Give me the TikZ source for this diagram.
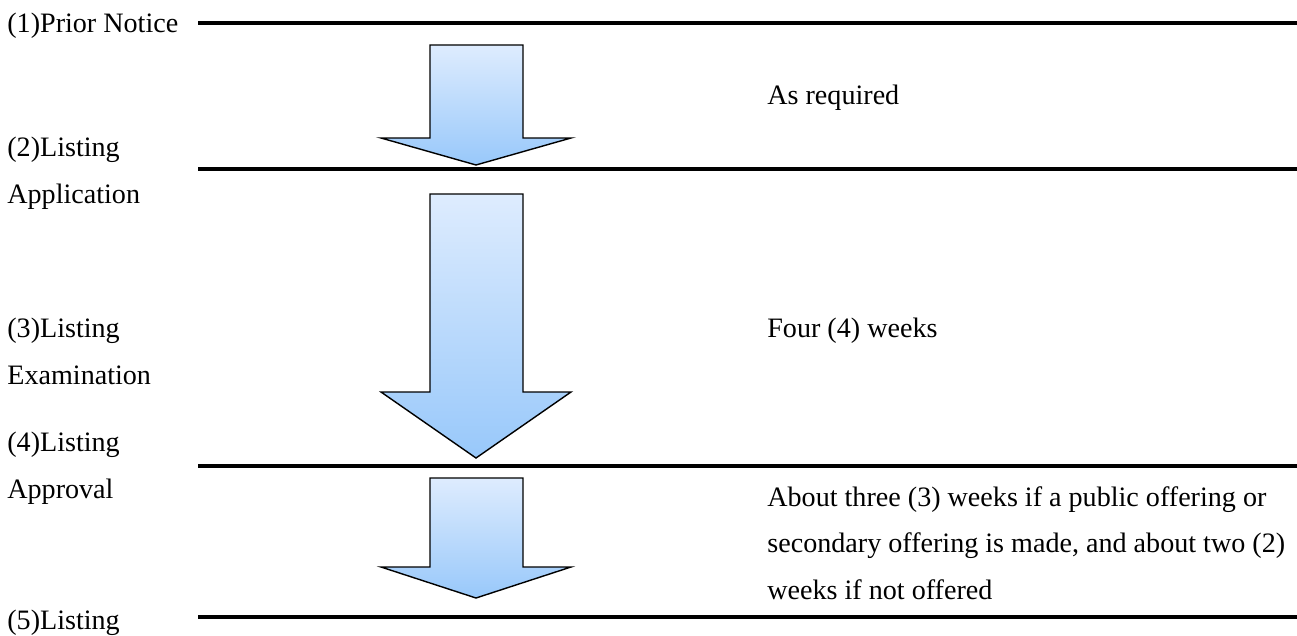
\documentclass[tikz,border=0pt]{standalone}
\usepackage{fontspec}
\setmainfont{Liberation Serif}
\definecolor{arrowtop}{RGB}{222,236,254}
\definecolor{arrowbot}{RGB}{152,200,250}
\tikzset{
  rule/.style={line width=2.1pt},
  stage/.style={anchor=base west, inner sep=0pt, align=left,
    font=\fontsize{16}{26.4}\selectfont},
  blockarrow/.style={draw=black, line width=0.8pt, line join=miter,
    top color=arrowtop, bottom color=arrowbot}
}

\begin{document}
\begin{tikzpicture}[x=0.02cm,y=-0.02cm]
\useasboundingbox (0,0) rectangle (1297,635);
\foreach \y/\n in {23/1,169/2,466/3,617/4}{
  \coordinate (w\n) at (198,\y);
  \coordinate (e\n) at (1297,\y);
  \draw[rule] (w\n) -- (e\n);
}
\draw[blockarrow] (430,45) -- (523,45) -- (523,138) -- (571,138) -- (476,165) -- (381,138) -- (430,138) -- cycle;
\draw[blockarrow] (430,194) -- (523,194) -- (523,392) -- (571,392) -- (476,458) -- (381,392) -- (430,392) -- cycle;
\draw[blockarrow] (430,478) -- (523,478) -- (523,567) -- (571,567) -- (476,598) -- (381,567) -- (430,567) -- cycle;
% multi-line nodes: base is the last line
\node[stage] (s1) at (7,33) {(1)Prior Notice};
\node[stage] (s2) at (7,203) {(2)Listing\\Application};
\node[stage] (s3) at (7,384) {(3)Listing\\Examination};
\node[stage] (s4) at (7,498) {(4)Listing\\Approval};
\node[stage] (s5) at (7,629) {(5)Listing};
\node[stage] (t1) at (767,105) {As required};
\node[stage] (t2) at (767,337) {Four (4) weeks};
\node[stage] (t3) at (767,599) {About three (3) weeks if a public offering or\\secondary offering is made, and about two (2)\\weeks if not offered};
\end{tikzpicture}
\end{document}
